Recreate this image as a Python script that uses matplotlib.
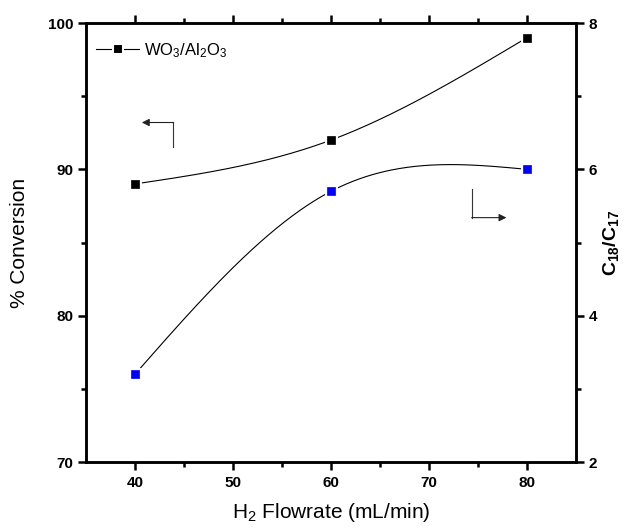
import numpy as np
import matplotlib
matplotlib.use("Agg")
import matplotlib.pyplot as plt
from matplotlib.lines import Line2D

plt.rcParams['font.family'] = ['Liberation Sans', 'DejaVu Sans']
plt.rcParams['mathtext.fontset'] = 'custom'
plt.rcParams['mathtext.rm'] = 'Liberation Sans'
plt.rcParams['mathtext.it'] = 'Liberation Sans:italic'
plt.rcParams['mathtext.bf'] = 'Liberation Sans:bold'

# H2 flowrate (mL/min)
flowrate = [40, 60, 80]
# WO3/Al2O3 conversion (%), left axis
conversion = [89.0, 92.0, 99.0]
# C18/C17 ratio, right axis
c18_c17 = [3.2, 5.7, 6.0]


def natural_spline(x, y, n=300):
    # natural cubic spline through the points (second derivative 0 at ends)
    x = np.asarray(x, float)
    y = np.asarray(y, float)
    k = len(x)
    h = np.diff(x)
    A = np.zeros((k, k))
    b = np.zeros(k)
    A[0, 0] = A[-1, -1] = 1
    for i in range(1, k - 1):
        A[i, i - 1] = h[i - 1]
        A[i, i] = 2 * (h[i - 1] + h[i])
        A[i, i + 1] = h[i]
        b[i] = 6 * ((y[i + 1] - y[i]) / h[i] - (y[i] - y[i - 1]) / h[i - 1])
    M = np.linalg.solve(A, b)
    xs = np.linspace(x[0], x[-1], n)
    idx = np.clip(np.searchsorted(x, xs) - 1, 0, k - 2)
    x0, x1 = x[idx], x[idx + 1]
    hh = x1 - x0
    t0, t1 = x1 - xs, xs - x0
    ys = (M[idx] * t0**3 + M[idx + 1] * t1**3) / (6 * hh) \
        + (y[idx] / hh - M[idx] * hh / 6) * t0 \
        + (y[idx + 1] / hh - M[idx + 1] * hh / 6) * t1
    return xs, ys


fig = plt.figure(figsize=(6.25, 5.3), dpi=100)
ax = fig.add_axes([0.1376, 0.1283, 0.7840, 0.8283])
ax2 = ax.twinx()

tick_font = dict(fontsize=11, fontweight='bold')

# left axis: conversion
xs, ys = natural_spline(flowrate, conversion)
ax.plot(xs, ys, color='black', lw=0.8, zorder=2)
ax.plot(flowrate, conversion, 's', color='black', ms=6,
        mec='white', mew=3.5, zorder=3)
ax.plot(flowrate, conversion, 's', color='black', ms=6, mec='black', mew=0.5, zorder=4)

# right axis: C18/C17
xs, ys = natural_spline(flowrate, c18_c17)
ax2.plot(xs, ys, color='black', lw=0.8, zorder=2)
ax2.plot(flowrate, c18_c17, 's', color='#0000ff', ms=6,
         mec='white', mew=3.5, zorder=3)
ax2.plot(flowrate, c18_c17, 's', color='#0000ff', ms=6, mec='#0000ff', mew=0.5, zorder=4)

ax.set_xlim(35, 85)
ax.set_ylim(70, 100)
ax2.set_ylim(2, 8)

ax.set_xticks([40, 50, 60, 70, 80])
ax.set_xticks([45, 55, 65, 75], minor=True)
ax.set_yticks([70, 80, 90, 100])
ax.set_yticks([75, 85, 95], minor=True)
ax2.set_yticks([2, 4, 6, 8])
ax2.set_yticks([3, 5, 7], minor=True)

for a in (ax, ax2):
    for s in a.spines.values():
        s.set_linewidth(1.8)
    a.tick_params(which='major', direction='out', length=6, width=1.8, pad=3)
    a.tick_params(which='minor', direction='out', length=3.5, width=1.8)
ax.tick_params(axis='x', which='both', top=True, labeltop=False)
ax.tick_params(axis='x', which='major', pad=4)
ax.set_xticklabels([str(v) for v in [40, 50, 60, 70, 80]], **tick_font)
ax.set_yticklabels([str(v) for v in [70, 80, 90, 100]], **tick_font)
ax2.set_yticklabels([str(v) for v in [2, 4, 6, 8]], **tick_font)

ax.set_xlabel('H$_2$ Flowrate (mL/min)', fontsize=15, labelpad=8)
ax.set_ylabel('% Conversion', fontsize=15, labelpad=14)
ax2.set_ylabel(r'$\mathbf{C_{18}/C_{17}}$', fontsize=14, labelpad=3)

# arrows pointing to each series' axis
ax.plot([43.9, 43.9], [91.5, 93.2], color='#333333', lw=0.8)
ax.annotate('', xy=(40.7, 93.2), xytext=(43.95, 93.2),
            arrowprops=dict(arrowstyle='-|>', color='#222222', lw=0.8,
                            mutation_scale=11, shrinkA=0, shrinkB=0))
ax.plot([74.4, 74.4], [88.65, 86.7], color='#333333', lw=0.8)
ax.annotate('', xy=(77.9, 86.7), xytext=(74.35, 86.7),
            arrowprops=dict(arrowstyle='-|>', color='#222222', lw=0.8,
                            mutation_scale=11, shrinkA=0, shrinkB=0))

handle = Line2D([], [], color='black', lw=0.8, marker='s', ms=7, mec='white', mew=1.5)
ax.legend([handle], ['WO$_3$/Al$_2$O$_3$'], loc='center left',
          bbox_to_anchor=(0.0, 0.938), frameon=False, fontsize=12,
          handlelength=2.6, handletextpad=0.3, borderpad=0.3, borderaxespad=0.3)

fig.savefig('out.png', dpi=100)
